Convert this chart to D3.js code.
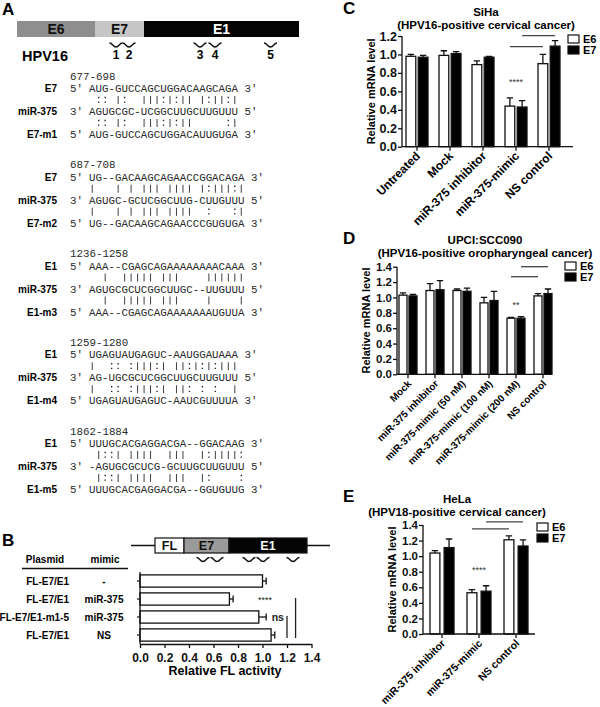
<!DOCTYPE html>
<html>
<head>
<meta charset="utf-8">
<script src="https://cdn.jsdelivr.net/npm/d3@7/dist/d3.min.js"></script>
<style>
  body { margin: 0; background: #fff; }
  svg { display: block; }
</style>
</head>
<body>
<svg id="fig" width="600" height="707"></svg>
<script>
const SANS = "'Liberation Sans', Arial, sans-serif";
const MONO = "'Liberation Mono', 'Courier New', monospace";

// ---------- panel A data ----------
const geneNames = ["E6", "E7", "E1"];
const siteNames = ["1", "2", "3", "4", "5"];
const siteRanges = ["677-698", "687-708", "1236-1258", "1259-1280", "1862-1884"];
const siteGenes = ["E7", "E7", "E1", "E1", "E1"];
const mutNames = ["E7-m1", "E7-m2", "E1-m3", "E1-m4", "E1-m5"];
const targetSeqs = [
  "AUG-GUCCAGCUGGACAAGCAGA",
  "UG--GACAAGCAGAACCGGACAGA",
  "AAA--CGAGCAGAAAAAAAACAAA",
  "UGAGUAUGAGUC-AAUGGAUAAA",
  "UUUGCACGAGGACGA--GGACAAG"
];
const targetPairs = [
  " :: |:  |||:|:|| |:||:|",
  "|   | | ||| |||| |:|||:|",
  "  |  ||||| |||    ||||||",
  "|  :: :|||:| ||:|:|:|||",
  " |::| ||||  |||  |:||||:"
];
const mirSeqs = [
  "AGUGCGC-UCGGCUUGCUUGUUU",
  "AGUGC-GCUCGGCUUG-CUUGUUU",
  "AGUGCGCUCGGCUUGC--UUGUUU",
  "AG-UGCGCUCGGCUUGCUUGUUU",
  "-AGUGCGCUCG-GCUUGCUUGUUU"
];
const mutPairs = [
  " :: |:  |||:|:||     :|",
  "|   | | ||| ||||  :   :|",
  "  |  ||||| |||    |    |",
  "|  :: :|||:| ||: : :  |",
  " |::| ||||  |||  |:    :"
];
const mutSeqs = [
  "AUG-GUCCAGCUGGACAUUGUGA",
  "UG--GACAAGCAGAACCCGUGUGA",
  "AAA--CGAGCAGAAAAAAAUGUUA",
  "UGAGUAUGAGUC-AAUCGUUUUA",
  "UUUGCACGAGGACGA--GGUGUUG"
];

// ---------- panel B data ----------
const bGenes = ["FL", "E7", "E1"];
const bPlasmid = ["FL-E7/E1", "FL-E7/E1", "FL-E7/E1-m1-5", "FL-E7/E1"];
const bMimic = ["-", "miR-375", "miR-375", "NS"];
const bValue = [1.00, 0.73, 0.97, 1.07];
const bErr = [0.03, 0.03, 0.06, 0.03];
const bTicks = [0, 0.2, 0.4, 0.6, 0.8, 1.0, 1.2, 1.4];
const bSig = [
  { from: 1, to: 3, at: 1.27, label: "****", labelAt: 1.02 },
  { from: 2, to: 3, at: 1.20, label: "ns", labelAt: 1.125 }
];

// ---------- panels C, D, E data ----------
const series = ["E6", "E7"];

const cCats = ["Untreated", "Mock", "miR-375 inhibitor", "miR-375-mimic", "NS control"];
const cE6 = [0.98, 0.99, 0.89, 0.44, 0.90];
const cE6err = [0.02, 0.05, 0.04, 0.09, 0.10];
const cE7 = [0.97, 1.01, 0.97, 0.43, 1.09];
const cE7err = [0.02, 0.02, 0.01, 0.07, 0.06];
const cTicks = [0, 0.2, 0.4, 0.6, 0.8, 1.0, 1.2];

const dCats = ["Mock", "miR-375 inhibitor", "miR-375-mimic (50 nM)", "miR-375-mimic (100 nM)",
  "miR-375-mimic (200 nM)", "NS control"];
const dE6 = [1.03, 1.09, 1.09, 0.93, 0.73, 1.02];
const dE6err = [0.03, 0.09, 0.02, 0.07, 0.01, 0.03];
const dE7 = [1.02, 1.10, 1.08, 0.96, 0.73, 1.05];
const dE7err = [0.02, 0.12, 0.04, 0.12, 0.02, 0.06];
const dTicks = [0, 0.2, 0.4, 0.6, 0.8, 1.0, 1.2, 1.4];

const eCats = ["miR-375 inhibitor", "miR-375-mimic", "NS control"];
const eE6 = [1.04, 0.53, 1.21];
const eE6err = [0.03, 0.04, 0.05];
const eE7 = [1.11, 0.55, 1.13];
const eE7err = [0.11, 0.07, 0.08];
const eTicks = [0, 0.2, 0.4, 0.6, 0.8, 1.0, 1.2, 1.4];

const fill = { E6: "#8e8e8e", E7: "#c6c6c6", E1: "#050505", FL: "#ffffff" };

const svg = d3.select("#fig");
svg.append("rect").attr("width", 600).attr("height", 707).attr("fill", "#fff");

function panelLetter(t, x, y) {
  svg.append("text").attr("x", x).attr("y", y).text(t)
    .attr("font-family", SANS).attr("font-weight", "bold").attr("font-size", 17);
}

function wave(g, cx, y, w) {
  const h = w / 2;
  g.append("path")
    .attr("d", `M${cx - h},${y} C${cx - h / 2},${y} ${cx - h / 2},${y + 4} ${cx},${y + 4} C${cx + h / 2},${y + 4} ${cx + h / 2},${y} ${cx + h},${y}`)
    .attr("fill", "none").attr("stroke", "#111").attr("stroke-width", 1.3);
}

// ================= A =================
panelLetter("A", 2, 15);
const gA = svg.append("g");
const geneEdgesA = [17, 95, 144, 299];
gA.selectAll("rect").data(geneNames).join("rect")
  .attr("x", (d, i) => geneEdgesA[i])
  .attr("width", (d, i) => geneEdgesA[i + 1] - geneEdgesA[i])
  .attr("y", 21).attr("height", 16)
  .attr("fill", d => fill[d]);
gA.selectAll("text.gene").data(geneNames).join("text")
  .attr("class", "gene")
  .attr("x", (d, i) => (geneEdgesA[i] + geneEdgesA[i + 1]) / 2)
  .attr("y", 34).attr("text-anchor", "middle")
  .attr("font-family", SANS).attr("font-weight", "bold").attr("font-size", 14)
  .attr("fill", d => d === "E1" ? "#fff" : "#111")
  .text(d => d);

gA.append("text").attr("x", 22).attr("y", 61).text("HPV16")
  .attr("font-family", SANS).attr("font-weight", "bold").attr("font-size", 14.5);

const siteXA = [116, 129, 200, 215, 270.5];
siteNames.forEach((s, i) => wave(gA, siteXA[i], 43, 13));
gA.selectAll("text.site").data(siteNames).join("text")
  .attr("class", "site")
  .attr("x", (d, i) => siteXA[i]).attr("y", 59).attr("text-anchor", "middle")
  .attr("font-family", SANS).attr("font-weight", "bold").attr("font-size", 12)
  .text(d => d);

// sequence alignments
const cw = 6.48; // mono char width at 10.8px
const seqX = 89;
const col = d3.scaleLinear().domain([0, 1]).range([seqX, seqX + cw]);
const seqInk = "#2a2a2a";

function pairMarks(g, str, cy) {
  const marks = str.split("").map((c, i) => ({ c, i })).filter(d => d.c !== " ");
  g.selectAll(null).data(marks.filter(d => d.c === "|")).join("line")
    .attr("x1", d => col(d.i + 0.5)).attr("x2", d => col(d.i + 0.5))
    .attr("y1", cy - 4).attr("y2", cy + 4)
    .attr("stroke", seqInk).attr("stroke-width", 0.9);
  g.selectAll(null).data(marks.filter(d => d.c === ":")).join("path")
    .attr("d", d => {
      const x = col(d.i + 0.5);
      return `M${x - 0.7},${cy - 3.2}h1.4v1.4h-1.4Z M${x - 0.7},${cy + 1.4}h1.4v1.4h-1.4Z`;
    })
    .attr("fill", seqInk);
}

siteRanges.forEach((r, g) => {
  const top = 76 + 88.75 * g;
  const grp = svg.append("g");
  grp.append("text").attr("x", 70).attr("y", top + 3.5).text(r)
    .attr("font-family", MONO).attr("font-size", 10.8).attr("fill", seqInk);
  const rows = [
    { label: siteGenes[g], p5: "5′", seq: targetSeqs[g], p3: "3′" },
    { pairs: targetPairs[g] },
    { label: "miR-375", p5: "3′", seq: mirSeqs[g], p3: "5′" },
    { pairs: mutPairs[g] },
    { label: mutNames[g], p5: "5′", seq: mutSeqs[g], p3: "3′" }
  ];
  rows.forEach((row, k) => {
    const cy = top + 12.5 + 11.5 * k;
    if (row.pairs) {
      pairMarks(grp, row.pairs, cy);
      return;
    }
    grp.append("text").attr("x", 57).attr("y", cy + 3.6).attr("text-anchor", "end")
      .attr("font-family", SANS).attr("font-weight", "bold").attr("font-size", 10)
      .text(row.label);
    grp.append("text").attr("x", 70).attr("y", cy + 3.5).text(row.p5)
      .attr("font-family", MONO).attr("font-size", 10.8).attr("fill", seqInk);
    grp.append("text").attr("x", col(row.seq.length + 1)).attr("y", cy + 3.5).text(row.p3)
      .attr("font-family", MONO).attr("font-size", 10.8).attr("fill", seqInk);
    grp.append("text").attr("x", seqX).attr("y", cy + 3.5)
      .attr("font-family", MONO).attr("font-size", 10.8).attr("fill", seqInk)
      .text(row.seq);
  });
});

// ================= B =================
panelLetter("B", 2, 546);
const gB = svg.append("g");
// construct diagram
const geneEdgesB = [155, 184, 229, 307];
gB.append("line").attr("x1", 131).attr("x2", 330).attr("y1", 545.5).attr("y2", 545.5)
  .attr("stroke", "#111").attr("stroke-width", 1.5);
gB.selectAll("rect.gene").data(bGenes).join("rect")
  .attr("class", "gene")
  .attr("x", (d, i) => geneEdgesB[i])
  .attr("width", (d, i) => geneEdgesB[i + 1] - geneEdgesB[i])
  .attr("y", 538).attr("height", 15)
  .attr("fill", d => d === "E7" ? "#9a9a9a" : fill[d])
  .attr("stroke", "#111").attr("stroke-width", 1.2);
gB.selectAll("text.gene").data(bGenes).join("text")
  .attr("class", "gene")
  .attr("x", (d, i) => (geneEdgesB[i] + geneEdgesB[i + 1]) / 2)
  .attr("y", 550).attr("text-anchor", "middle")
  .attr("font-family", SANS).attr("font-weight", "bold").attr("font-size", 12.5)
  .attr("fill", d => d === "E1" ? "#fff" : "#111")
  .text(d => d);
[203, 217, 249, 263, 293].forEach(cx => wave(gB, cx, 557.5, 13));

// table header
gB.append("text").attr("x", 45).attr("y", 563).attr("text-anchor", "middle").text("Plasmid")
  .attr("font-family", SANS).attr("font-weight", "bold").attr("font-size", 10);
gB.append("text").attr("x", 105).attr("y", 563).attr("text-anchor", "middle").text("mimic")
  .attr("font-family", SANS).attr("font-weight", "bold").attr("font-size", 10);
gB.append("line").attr("x1", 22).attr("x2", 128).attr("y1", 568.5).attr("y2", 568.5)
  .attr("stroke", "#111").attr("stroke-width", 1.5);

const bx = d3.scaleLinear().domain([0, 1.4]).range([140, 311.5]);
const by = d3.scaleBand().domain(d3.range(bValue.length)).range([572, 644])
  .paddingInner(0.32).paddingOuter(0.16);
const bMid = i => by(i) + by.bandwidth() / 2;

gB.selectAll("text.plasmid").data(bPlasmid).join("text")
  .attr("class", "plasmid")
  .attr("x", 69).attr("y", (d, i) => bMid(i) + 3.6).attr("text-anchor", "end")
  .attr("font-family", SANS).attr("font-weight", "bold").attr("font-size", 10)
  .text(d => d);
gB.selectAll("text.mimic").data(bMimic).join("text")
  .attr("class", "mimic")
  .attr("x", 104).attr("y", (d, i) => bMid(i) + 3.6).attr("text-anchor", "middle")
  .attr("font-family", SANS).attr("font-weight", "bold").attr("font-size", 10)
  .text(d => d);

gB.selectAll("rect.bar").data(bValue).join("rect")
  .attr("class", "bar")
  .attr("x", bx(0)).attr("y", (d, i) => by(i))
  .attr("width", d => bx(d) - bx(0)).attr("height", by.bandwidth())
  .attr("fill", "#fff").attr("stroke", "#111").attr("stroke-width", 1.3);
bValue.forEach((v, i) => {
  gB.append("line").attr("x1", bx(v)).attr("x2", bx(v + bErr[i]))
    .attr("y1", bMid(i)).attr("y2", bMid(i)).attr("stroke", "#111").attr("stroke-width", 1.3);
  gB.append("line").attr("x1", bx(v + bErr[i])).attr("x2", bx(v + bErr[i]))
    .attr("y1", bMid(i) - 3.5).attr("y2", bMid(i) + 3.5).attr("stroke", "#111").attr("stroke-width", 1.3);
});

const bAxis = gB.append("g").attr("transform", "translate(0,644)")
  .call(d3.axisBottom(bx).tickValues(bTicks).tickFormat(d3.format(".1f")).tickSize(4).tickSizeOuter(0));
bAxis.selectAll("path,line").attr("stroke", "#111").attr("stroke-width", 1.3);
bAxis.selectAll("text").attr("font-family", SANS).attr("font-weight", "bold").attr("font-size", 12)
  .attr("fill", "#111").attr("dy", "0.95em");
gB.append("line").attr("x1", bx(0)).attr("x2", bx(0)).attr("y1", 572).attr("y2", 644)
  .attr("stroke", "#111").attr("stroke-width", 1.3);
gB.selectAll("line.ytick").data(bValue).join("line")
  .attr("class", "ytick")
  .attr("x1", bx(0) - 3).attr("x2", bx(0)).attr("y1", (d, i) => bMid(i)).attr("y2", (d, i) => bMid(i))
  .attr("stroke", "#111").attr("stroke-width", 1.2);
gB.append("text").attr("x", 225).attr("y", 675).attr("text-anchor", "middle")
  .text("Relative FL activity")
  .attr("font-family", SANS).attr("font-weight", "bold").attr("font-size", 12.5);

bSig.forEach(s => {
  gB.append("line").attr("x1", bx(s.at)).attr("x2", bx(s.at))
    .attr("y1", bMid(s.from) - 1).attr("y2", bMid(s.to) + 3)
    .attr("stroke", "#222").attr("stroke-width", 1.3);
  gB.append("text").attr("x", bx(s.labelAt)).attr("y", bMid(s.from) + 3.5)
    .attr("text-anchor", "middle").text(s.label)
    .attr("font-family", SANS).attr("font-weight", s.label === "ns" ? "bold" : "normal")
    .attr("font-size", s.label === "ns" ? 10.5 : 9).attr("fill", "#222");
});

// ================= C, D, E =================
function barPanel(p) {
  const g = svg.append("g");
  const y = d3.scaleLinear().domain([0, p.ticks[p.ticks.length - 1]]).range([p.yBottom, p.yTop]);
  const x = d3.scaleBand().domain(p.cats)
    .range([p.firstCenter - p.step / 2, p.firstCenter - p.step / 2 + p.step * p.cats.length]);
  const xs = d3.scaleBand().domain(series).range([-p.half, p.half]).paddingInner(p.gap);
  const cx = c => x(c) + x.bandwidth() / 2;
  const sx = (c, s) => cx(c) + xs(s) + xs.bandwidth() / 2;

  const rows = p.cats.map((c, i) => ({
    cat: c,
    vals: [
      { s: "E6", v: p.e6[i], e: p.e6err[i] },
      { s: "E7", v: p.e7[i], e: p.e7err[i] }
    ]
  }));

  // titles
  p.title.forEach((t, i) => {
    g.append("text").attr("x", p.titleX).attr("y", p.titleY + i * 13).attr("text-anchor", "middle")
      .text(t).attr("font-family", SANS).attr("font-weight", "bold").attr("font-size", 11.5);
  });

  const grp = g.selectAll("g.grp").data(rows).join("g").attr("class", "grp")
    .attr("transform", d => `translate(${cx(d.cat)},0)`);
  // error bars (above only)
  grp.selectAll("path.err").data(d => d.vals).join("path").attr("class", "err")
    .attr("d", d => {
      const xm = xs(d.s) + xs.bandwidth() / 2;
      return `M${xm},${y(d.v)} V${y(d.v + d.e)} M${xm - 3.2},${y(d.v + d.e)} H${xm + 3.2}`;
    })
    .attr("stroke", "#111").attr("stroke-width", 1.3).attr("fill", "none");
  grp.selectAll("rect").data(d => d.vals).join("rect")
    .attr("x", d => xs(d.s)).attr("width", xs.bandwidth())
    .attr("y", d => y(d.v)).attr("height", d => y(0) - y(d.v))
    .attr("fill", d => d.s === "E6" ? "#fff" : "#000")
    .attr("stroke", "#111").attr("stroke-width", 1.3);

  // y axis
  const ya = g.append("g").attr("transform", `translate(${p.axisX},0)`)
    .call(d3.axisLeft(y).tickValues(p.ticks).tickFormat(d3.format(".1f")).tickSize(4).tickSizeOuter(0));
  ya.select(".domain").attr("d", `M0,${p.yTop}V${p.yBottom}`);
  ya.selectAll("path,line").attr("stroke", "#111").attr("stroke-width", 1.3);
  ya.selectAll("text").attr("font-family", SANS).attr("font-weight", "bold")
    .attr("font-size", p.tickFont).attr("fill", "#111").attr("x", -5);

  // x axis
  const xa = g.append("g").attr("transform", `translate(0,${p.yBottom})`)
    .call(d3.axisBottom(x).tickSize(4).tickSizeOuter(0).tickFormat(""));
  xa.select(".domain").attr("d", `M${p.axisX},0H${p.axisEnd}`);
  xa.selectAll("path,line").attr("stroke", "#111").attr("stroke-width", 1.3);
  g.selectAll("text.xl").data(p.cats).join("text").attr("class", "xl")
    .attr("transform", d => `translate(${cx(d) + 4},${p.yBottom + 10}) rotate(-45)`)
    .attr("text-anchor", "end")
    .attr("font-family", SANS).attr("font-weight", "bold").attr("font-size", p.labelFont)
    .text(d => d);

  g.append("text")
    .attr("transform", `translate(${p.axisX - 27},${(p.yTop + p.yBottom) / 2}) rotate(-90)`)
    .attr("text-anchor", "middle").text("Relative mRNA level")
    .attr("font-family", SANS).attr("font-weight", "bold").attr("font-size", 11);

  // significance
  p.sig.lines.forEach(l => {
    g.append("line").attr("x1", sx(l.from, l.s)).attr("x2", sx(l.to, l.s))
      .attr("y1", y(l.at)).attr("y2", y(l.at))
      .attr("stroke", "#444").attr("stroke-width", 1.3);
  });
  g.append("text").attr("x", cx(p.sig.star.cat)).attr("y", y(p.sig.star.at) + 3)
    .attr("text-anchor", "middle").text(p.sig.star.text)
    .attr("font-family", SANS).attr("font-size", 9).attr("fill", "#333");

  // legend
  const lg = g.append("g").attr("transform", `translate(${p.legendX},${p.legendY})`);
  series.forEach((s, i) => {
    lg.append("rect").attr("x", 0).attr("y", i * 11).attr("width", 11).attr("height", 8)
      .attr("fill", s === "E6" ? "#fff" : "#000").attr("stroke", "#111").attr("stroke-width", 1.2);
    lg.append("text").attr("x", 15).attr("y", i * 11 + 8).text(s)
      .attr("font-family", SANS).attr("font-weight", "bold").attr("font-size", 11);
  });
}

panelLetter("C", 343, 14);
barPanel({
  cats: cCats, e6: cE6, e6err: cE6err, e7: cE7, e7err: cE7err, ticks: cTicks,
  yTop: 36, yBottom: 146.7, axisX: 402, axisEnd: 573, firstCenter: 417, step: 33, half: 11, gap: 0.2,
  title: ["SiHa", "(HPV16-positive cervical cancer)"], titleX: 486, titleY: 16,
  tickFont: 12.5, labelFont: 12, legendX: 568, legendY: 35,
  sig: {
    lines: [{ s: "E6", from: "miR-375-mimic", to: "NS control", at: 1.085 },
            { s: "E7", from: "miR-375-mimic", to: "NS control", at: 1.203 }],
    star: { cat: "miR-375-mimic", at: 0.70, text: "****" }
  }
});

panelLetter("D", 343, 244);
barPanel({
  cats: dCats, e6: dE6, e6err: dE6err, e7: dE7, e7err: dE7err, ticks: dTicks,
  yTop: 266.7, yBottom: 374.3, axisX: 397, axisEnd: 552, firstCenter: 408, step: 27, half: 9, gap: 0.2,
  title: ["UPCI:SCC090", "(HPV16-positive oropharyngeal cancer)"], titleX: 485, titleY: 244,
  tickFont: 11.5, labelFont: 10, legendX: 565, legendY: 262,
  sig: {
    lines: [{ s: "E6", from: "miR-375-mimic (200 nM)", to: "NS control", at: 1.27 },
            { s: "E7", from: "miR-375-mimic (200 nM)", to: "NS control", at: 1.40 }],
    star: { cat: "miR-375-mimic (200 nM)", at: 0.90, text: "**" }
  }
});

panelLetter("E", 343, 502);
barPanel({
  cats: eCats, e6: eE6, e6err: eE6err, e7: eE7, e7err: eE7err, ticks: eTicks,
  yTop: 525, yBottom: 634, axisX: 423, axisEnd: 535, firstCenter: 442, step: 37, half: 12, gap: 0.3,
  title: ["HeLa", "(HPV18-positive cervical cancer)"], titleX: 457, titleY: 503,
  tickFont: 11.5, labelFont: 10.5, legendX: 537, legendY: 523,
  sig: {
    lines: [{ s: "E6", from: "miR-375-mimic", to: "NS control", at: 1.35 },
            { s: "E7", from: "miR-375-mimic", to: "NS control", at: 1.44 }],
    star: { cat: "miR-375-mimic", at: 0.82, text: "****" }
  }
});
</script>
</body>
</html>
